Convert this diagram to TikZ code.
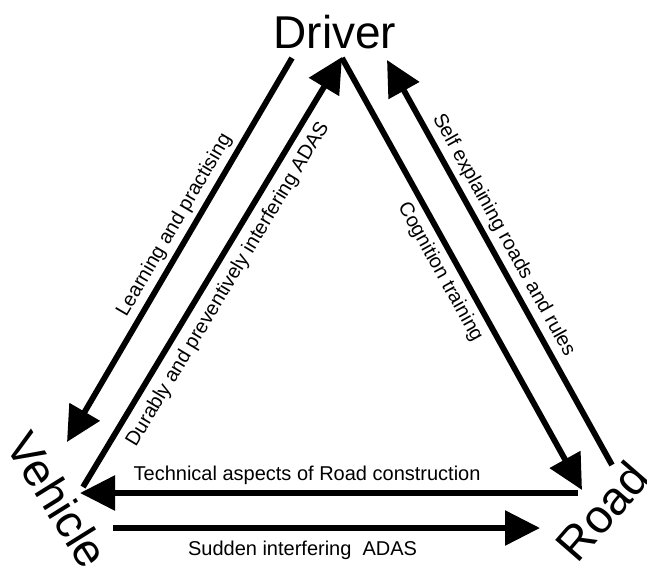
\documentclass[tikz,border=0pt]{standalone}
\usepackage{fontspec}
\setmainfont{Liberation Sans}
\usetikzlibrary{arrows.meta}
\begin{document}
\begin{tikzpicture}[x=1pt,y=-1pt,
  flow/.style={line width=5.8pt, -{Triangle[length=35pt,width=34pt]}},
  lab/.style={font=\fontsize{20}{24}\selectfont, inner sep=0pt},
  actor/.style={font=\fontsize{46}{50}\selectfont, inner sep=0pt}]
\useasboundingbox (0,0) rectangle (647,573);

% the three actors
\node[actor, anchor=base] (driver) at (335,48) {Driver};
\node[actor, rotate=-58] (vehicle) at (58,500) {Vehicle};
\node[actor, font=\fontsize{47}{52}\selectfont, rotate=49] (road) at (602,511) {Road};

% end points of the arrows
\coordinate (ls) at (292,58);  \coordinate (le) at (67,442);
\coordinate (ds) at (83,487);  \coordinate (de) at (342,57);
\coordinate (cs) at (342,58);  \coordinate (ce) at (582,490);
\coordinate (ss) at (612,465); \coordinate (se) at (387,60);
\coordinate (ts) at (578,493); \coordinate (te) at (80,493);
\coordinate (us) at (113,528); \coordinate (ue) at (540,528);

% driver <-> vehicle
\draw[flow] (ls) -- node[lab, sloped, pos=0.458, above=4.5pt] {Learning and practising} (le);
\draw[flow] (ds) -- node[lab, sloped, pos=0.495, below=7.5pt] {Durably and preventively interfering ADAS} (de);
% driver <-> road
\draw[flow] (cs) -- node[lab, sloped, pos=0.475, below=6pt] {Cognition training} (ce);
\draw[flow] (ss) -- node[lab, sloped, pos=0.547, above=4.5pt] {Self explaining roads and rules} (se);
% road <-> vehicle
\draw[flow] (ts) -- node[lab, pos=0.544, above=5pt] {Technical aspects of Road construction} (te);
\draw[flow] (us) -- node[lab, pos=0.444, below=10pt] {Sudden interfering\ \ ADAS} (ue);
\end{tikzpicture}
\end{document}
